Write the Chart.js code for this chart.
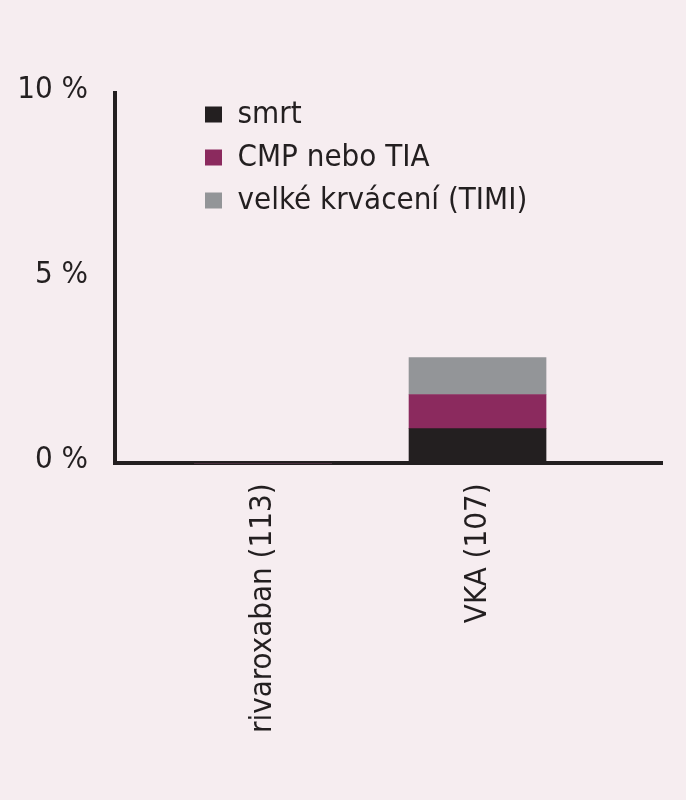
<!DOCTYPE html>
<html>
<head>
<meta charset="utf-8">
<script src="https://cdn.jsdelivr.net/npm/chart.js@4/dist/chart.umd.min.js"></script>
<style>
  html, body { margin: 0; padding: 0; background: #f6edf0; }
  #wrap { width: 686px; height: 800px; }
</style>
</head>
<body>
<div id="wrap"><canvas id="chart"></canvas></div>
<script>
    // data
    const categories = ['rivaroxaban (113)', 'VKA (107)'];
    const seriesNames = ['smrt', 'CMP nebo TIA', 'velké krvácení (TIMI)'];
    const smrt = [0, 0.94];
    const cmpTia = [0, 0.92];
    const krvaceni = [0, 1.0];
    const yTicks = [0, 5, 10];

    const colors = ['#231f20', '#8b2a5e', '#939598'];
    const fontFamily = "'DejaVu Sans Condensed', 'Liberation Sans Narrow', sans-serif";

    function toPoints(values) {
        return values.map((v, i) => ({ x: i, y: v }));
    }

    // legend sits inside the plot, to the right of the y axis
    const legendShift = {
        id: 'legendShift',
        afterLayout(chart) {
            const lg = chart.legend;
            const ca = chart.chartArea;
            const w = lg.right - lg.left;
            const h = lg.bottom - lg.top;
            lg.left = ca.left + 78;
            lg.right = lg.left + w;
            lg.top = ca.top - 6;
            lg.bottom = lg.top + h;
        }
    };

    const ctx = document.getElementById('chart').getContext('2d');

    new Chart(ctx, {
        type: 'bar',
        data: {
            datasets: [
                { label: seriesNames[0], data: toPoints(smrt), backgroundColor: colors[0] },
                { label: seriesNames[1], data: toPoints(cmpTia), backgroundColor: colors[1] },
                { label: seriesNames[2], data: toPoints(krvaceni), backgroundColor: colors[2] }
            ]
        },
        options: {
            responsive: true,
            maintainAspectRatio: false,
            animation: false,
            barThickness: 137,
            layout: { padding: { top: 93, left: 19, right: 24, bottom: 47 } },
            plugins: {
                tooltip: { enabled: false },
                legend: {
                    position: 'chartArea',
                    align: 'start',
                    labels: {
                        color: '#231f20',
                        font: { family: fontFamily, size: 31 },
                        boxWidth: 17,
                        boxHeight: 16,
                        padding: 12
                    }
                }
            },
            scales: {
                x: {
                    type: 'linear',
                    stacked: true,
                    offset: false,
                    min: -0.69,
                    max: 1.86,
                    afterBuildTicks: (scale) => {
                        scale.ticks = categories.map((c, i) => ({ value: i }));
                    },
                    grid: { display: false, drawTicks: false },
                    border: { display: true, color: '#231f20', width: 4 },
                    ticks: {
                        autoSkip: false,
                        minRotation: 90,
                        maxRotation: 90,
                        padding: 20,
                        color: '#231f20',
                        font: { family: fontFamily, size: 31 },
                        callback: (v) => categories[v] ?? ''
                    }
                },
                y: {
                    stacked: true,
                    min: 0,
                    max: 10,
                    afterBuildTicks: (scale) => {
                        scale.ticks = yTicks.map(v => ({ value: v }));
                    },
                    afterFit: (scale) => {
                        scale.width = 96;
                    },
                    grid: { display: false, drawTicks: false },
                    border: { display: true, color: '#231f20', width: 4 },
                    ticks: {
                        padding: 27,
                        labelOffset: -3,
                        color: '#231f20',
                        font: { family: fontFamily, size: 31 },
                        callback: (v) => v + ' %'
                    }
                }
            }
        },
        plugins: [legendShift]
    });
</script>
</body>
</html>
